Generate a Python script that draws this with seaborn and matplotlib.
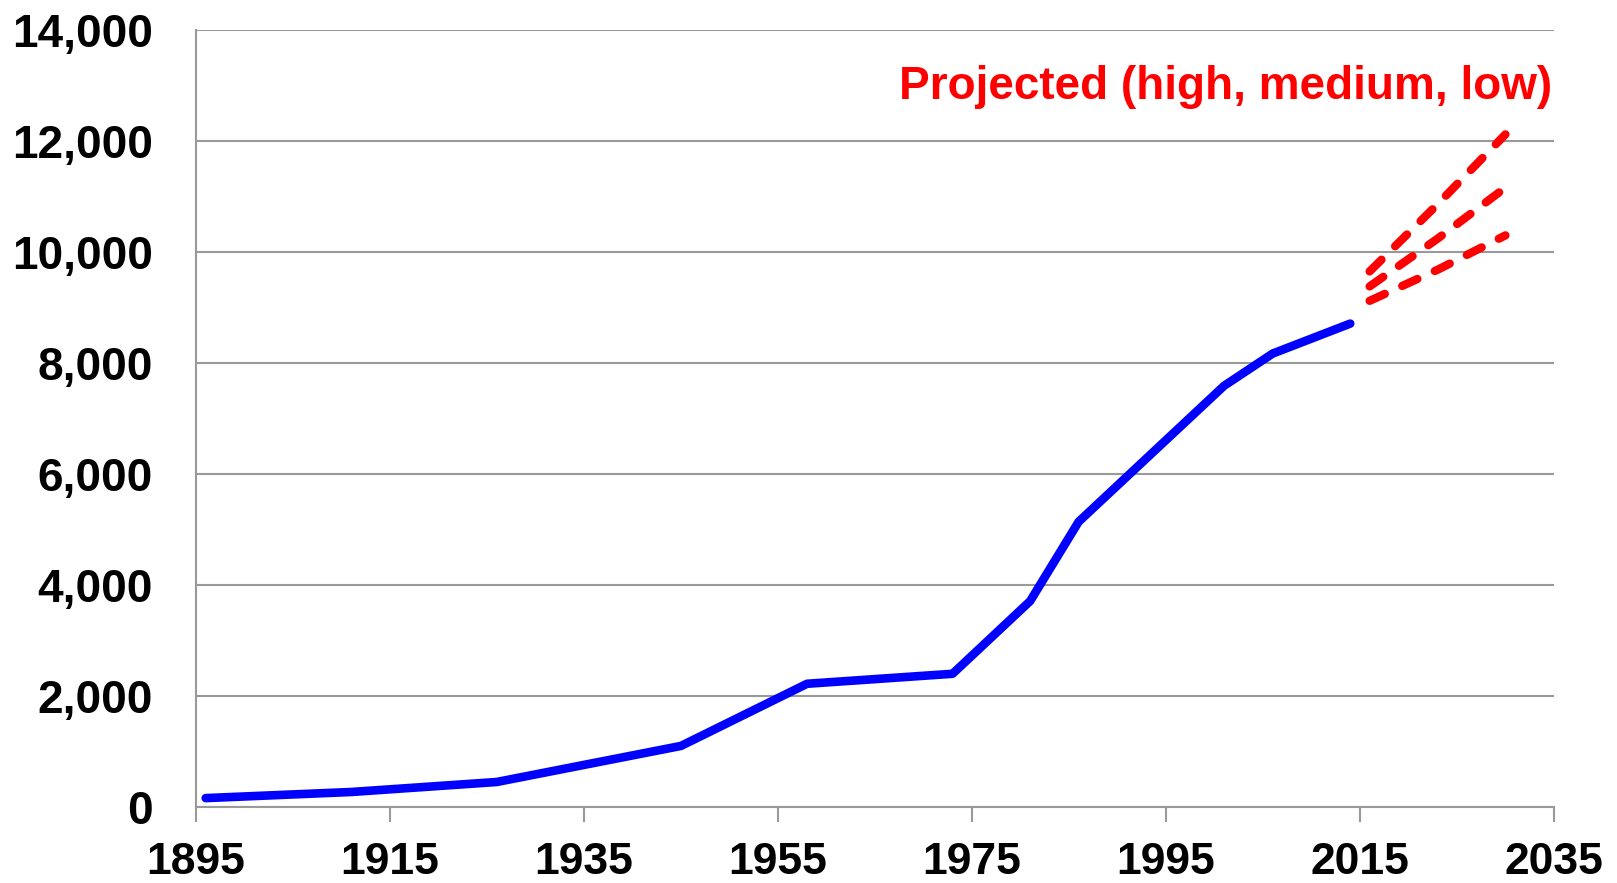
import matplotlib
matplotlib.use("Agg")
import numpy as np
import pandas as pd
import matplotlib.pyplot as plt
import seaborn as sns
from matplotlib.ticker import FuncFormatter

years = [1896, 1911, 1926, 1945, 1958, 1973, 1981, 1986, 2001, 2006, 2014]
values = [160, 270, 450, 1100, 2220, 2400, 3710, 5140, 7590, 8170, 8710]

# projections
proj_years = [2016, 2023, 2030]
proj_high = [9650, 10860, 12120]
proj_medium = [9380, 10240, 11160]
proj_low = [9120, 9680, 10300]

x_ticks = list(range(1895, 2036, 20))
y_ticks = list(range(0, 14001, 2000))

sns.set_style("white")
plt.rcParams["font.family"] = ["Liberation Sans", "DejaVu Sans"]
plt.rcParams["font.weight"] = "bold"

obs = pd.DataFrame({"year": years, "value": values})
proj = pd.DataFrame({
    "year": proj_years * 3,
    "value": proj_high + proj_medium + proj_low,
    "variant": ["high"] * 3 + ["medium"] * 3 + ["low"] * 3,
})

fig = plt.figure(figsize=(16.17, 8.83), dpi=100)
ax = fig.add_axes([0.1212, 0.0861, 0.8398, 0.8799])

sns.lineplot(data=obs, x="year", y="value", color="#0000ff", linewidth=6.2,
             solid_capstyle="round", solid_joinstyle="round", ax=ax, zorder=3)
for name in ["high", "medium", "low"]:
    sub = proj[proj["variant"] == name]
    line = sns.lineplot(data=sub, x="year", y="value", color="#ff0000",
                        linewidth=6.0, ax=ax, zorder=3).lines[-1]
    line.set_dashes((2.0, 2.3))
    line.set_dash_capstyle("round")

ax.set_xlim(1895, 2035)
ax.set_ylim(0, 14000)
ax.set_xticks(x_ticks)
ax.set_yticks(y_ticks)
ax.yaxis.set_major_formatter(FuncFormatter(lambda v, p: f"{int(v):,}"))
ax.set_xlabel("")
ax.set_ylabel("")

ax.grid(axis="y", color="#999999", linewidth=1.5, zorder=0)
ax.grid(axis="x", visible=False)
for s in ["top", "right"]:
    ax.spines[s].set_visible(False)
for s in ["left", "bottom"]:
    ax.spines[s].set_color("#999999")
    ax.spines[s].set_linewidth(1.5)

ax.tick_params(axis="x", direction="out", length=11, width=1.5, color="#999999",
               pad=14, labelsize=32, labelcolor="black", bottom=True)
ax.tick_params(axis="y", length=0, pad=31, labelsize=33, labelcolor="black")
for lab in ax.get_xticklabels() + ax.get_yticklabels():
    lab.set_fontweight("bold")

ax.text(2034.8, 12980, "Projected (high, medium, low)", color="#ff0000",
        fontsize=33, fontweight="bold", ha="right", va="center")

fig.savefig("out.png", dpi=100)
